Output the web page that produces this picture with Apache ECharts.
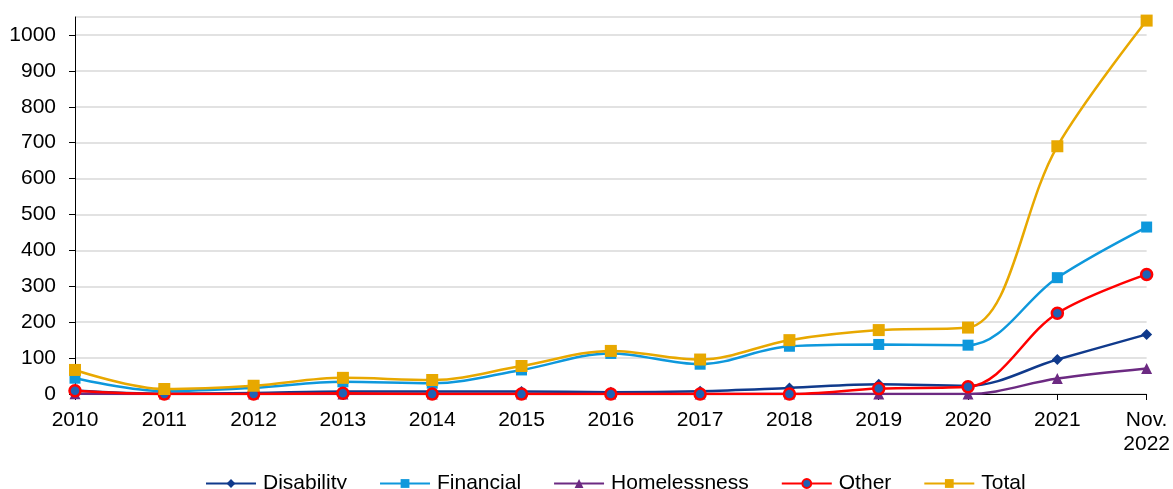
<!DOCTYPE html>
<html>
<head>
<meta charset="utf-8">
<script src="https://cdn.jsdelivr.net/npm/echarts@6/dist/echarts.min.js"></script>
<style>
  html, body { margin: 0; padding: 0; background: #fff; }
  #chart { width: 1173px; height: 489px; }
</style>
</head>
<body>
<div id="chart"></div>
<script>
// categorías del eje x
const years = ['2010', '2011', '2012', '2013', '2014', '2015', '2016', '2017', '2018', '2019', '2020', '2021', 'Nov.\n2022'];

// valores
const disability   = [10, 1, 3, 7, 7, 7, 5, 8, 17, 27, 23, 96, 166];
const financial    = [44, 8, 17, 34, 30, 67, 113, 83, 133, 138, 136, 324, 465];
const homelessness = [1, 0, 0, 0, 0, 0, 0, 0, 0, 0, 0, 43, 71];
const other        = [9, 0, 0, 2, 0, 0, 0, 0, 0, 15, 20, 225, 333];
const total        = [67, 14, 23, 45, 39, 78, 120, 96, 150, 178, 185, 690, 1040];

const chart = echarts.init(document.getElementById('chart'));

const mkSerie = (name, data, color, symbol, size, extra) => Object.assign({
    name: name,
    type: 'line',
    data: data,
    smooth: 0.35,
    symbol: symbol,
    symbolSize: size,
    lineStyle: { color: color, width: 2.5 },
    itemStyle: { color: color },
    emphasis: { disabled: true }
}, extra || {});

const option = {
    animation: false,
    textStyle: { fontFamily: 'Liberation Sans, Arial, sans-serif' },
    grid: { left: 75, right: 25, top: 17, bottom: 95, containLabel: false },
    legend: {
        top: 468,
        left: 200,
        itemWidth: 50,
        itemHeight: 11,
        itemGap: 32,
        textStyle: { fontSize: 21, color: '#000', padding: [0, 0, 0, 2] },
        data: ['Disability', 'Financial', 'Homelessness', 'Other', 'Total']
    },
    xAxis: {
        type: 'category',
        data: years,
        boundaryGap: false,
        axisLine: { lineStyle: { color: '#000', width: 1 } },
        axisTick: { show: true, alignWithLabel: true, length: 6, lineStyle: { color: '#000' } },
        axisLabel: { fontSize: 21, color: '#000', margin: 14, lineHeight: 24 }
    },
    yAxis: {
        type: 'value',
        min: 0,
        max: 1050,
        interval: 100,
        axisLine: { show: true, lineStyle: { color: '#000', width: 1 } },
        axisTick: { show: true, length: 6, lineStyle: { color: '#000' } },
        axisLabel: { fontSize: 21, color: '#000', margin: 19, showMaxLabel: false, formatter: v => String(v) },
        splitLine: { lineStyle: { color: '#d9d9d9', width: 1.5 } }
    },
    series: [
        mkSerie('Disability', disability, '#103a8c', 'diamond', 11),
        mkSerie('Financial', financial, '#0e98dc', 'rect', 11),
        mkSerie('Homelessness', homelessness, '#6c2a82', 'triangle', 11),
        mkSerie('Other', other, '#ff0000', 'circle', 11, {
            itemStyle: { color: '#1f62b5', borderColor: '#ff0000', borderWidth: 2.5 }
        }),
        mkSerie('Total', total, '#e8a800', 'rect', 12)
    ]
};

chart.setOption(option);
</script>
</body>
</html>
